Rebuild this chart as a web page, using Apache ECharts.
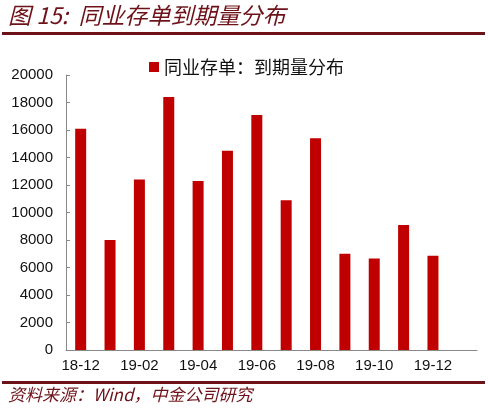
<!DOCTYPE html>
<html>
<head>
<meta charset="utf-8">
<script src="https://cdn.jsdelivr.net/npm/echarts@6/dist/echarts.min.js"></script>
<style>
  html, body { margin: 0; padding: 0; background: #fff; }
  #chart { width: 488px; height: 410px; }
</style>
</head>
<body>
<div id="chart"></div>
<script>
const categories = ['18-12', '19-01', '19-02', '19-03', '19-04', '19-05', '19-06',
    '19-07', '19-08', '19-09', '19-10', '19-11', '19-12', '20-01']
const maturity = [16100, 8000, 12400, 18400, 12300, 14500, 17100,
    10900, 15400, 7000, 6650, 9100, 6850, null]
const seriesName = '同业存单：到期量分布'

const chart = echarts.init(document.getElementById('chart'))
const darkRed = '#6e1219'
const font = 'Arial, "Liberation Sans", "Noto Sans CJK SC", sans-serif'

const option = {
    animation: false,
    textStyle: { fontFamily: font },
    legend: {
        data: [seriesName],
        top: 53,
        left: 144,
        itemWidth: 10,
        itemHeight: 10,
        itemGap: 4,
        icon: 'rect',
        textStyle: { fontSize: 18, color: '#111', fontFamily: '"Noto Sans CJK SC", sans-serif' }
    },
    grid: { left: 66, right: 11, top: 75, bottom: 60 },
    xAxis: {
        type: 'category',
        data: categories,
        axisLine: { lineStyle: { color: '#888', width: 1 } },
        axisTick: { inside: true, interval: 1, length: 5, lineStyle: { color: '#888' } },
        axisLabel: { interval: 1, fontSize: 15, color: '#111', margin: 8 }
    },
    yAxis: {
        type: 'value',
        min: 0,
        max: 20000,
        interval: 2000,
        axisLine: { show: true, lineStyle: { color: '#888', width: 1 } },
        axisTick: { show: true, inside: true, length: 4, lineStyle: { color: '#888' } },
        axisLabel: { fontSize: 15, color: '#111', margin: 13, formatter: v => String(v) },
        splitLine: { show: false }
    },
    series: [
        {
            name: seriesName,
            type: 'bar',
            data: maturity,
            barWidth: 11,
            itemStyle: { color: '#c00000' }
        }
    ],
    graphic: [
        {
            type: 'text',
            left: 8,
            top: 4,
            style: {
                text: '图 15:  同业存单到期量分布',
                fill: darkRed,
                font: 'italic 23px "Noto Sans CJK SC", sans-serif'
            }
        },
        {
            type: 'rect',
            shape: { x: 2, y: 32, width: 483, height: 3 },
            style: { fill: darkRed }
        },
        {
            type: 'rect',
            shape: { x: 2, y: 381, width: 483, height: 3 },
            style: { fill: darkRed }
        },
        {
            type: 'text',
            left: 8,
            top: 386,
            style: {
                text: '资料来源：Wind，中金公司研究',
                fill: darkRed,
                font: 'italic 17px "Noto Sans CJK SC", sans-serif'
            }
        }
    ]
}

chart.setOption(option)
</script>
</body>
</html>
